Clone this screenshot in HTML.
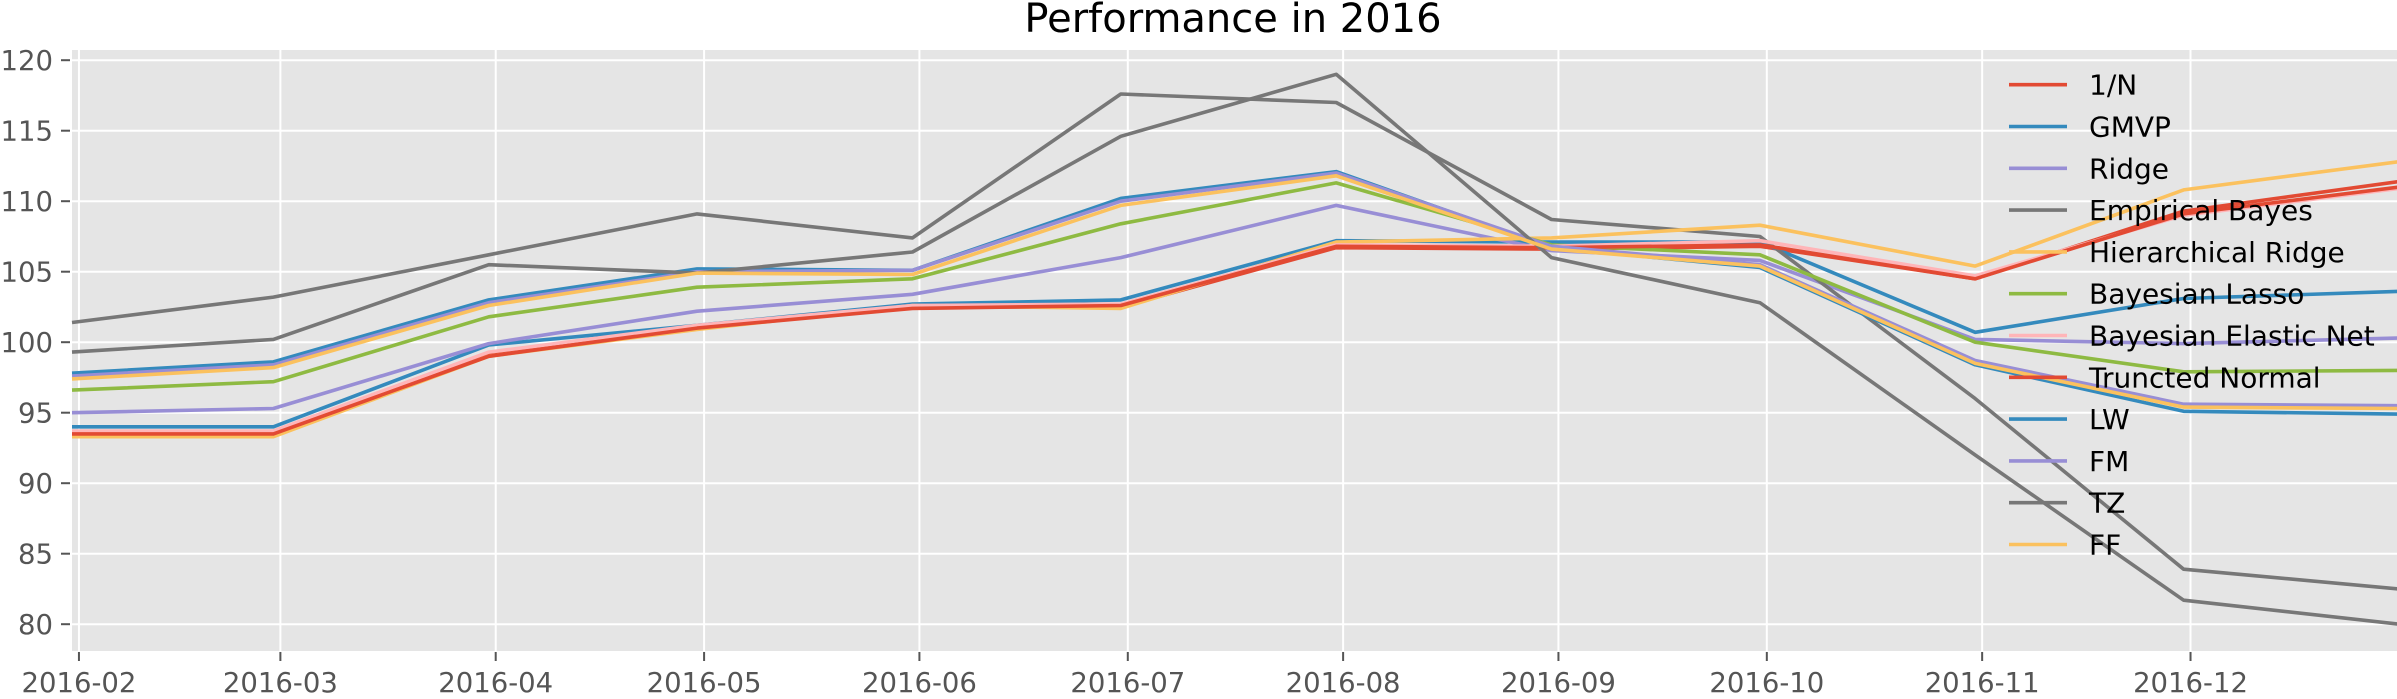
<!DOCTYPE html>
<html><head><meta charset="utf-8"><style>
html,body{margin:0;padding:0;background:#fff;}
svg{display:block;}
text{font-family:"DejaVu Sans","Liberation Sans",sans-serif;}
</style></head><body>
<svg id="chart" width="2397" height="699" viewBox="0 0 2397 699" xmlns="http://www.w3.org/2000/svg">
<text x="1233" y="32" font-size="40" text-anchor="middle" fill="#000">Performance in 2016</text>
<rect x="72" y="50" width="2330" height="601" fill="#E5E5E5"/>
<g id="grid"></g><g id="axes"></g><g id="lines"></g><g id="legend"></g>
</svg>
<script>
const monthEndDays = [30,59,90,120,151,181,212,243,273,304,334,365];
const tickDays = [31,60,91,121,152,182,213,244,274,305,335];
const tickLabels = ["2016-02","2016-03","2016-04","2016-05","2016-06","2016-07","2016-08","2016-09","2016-10","2016-11","2016-12"];
const yTicks = [80,85,90,95,100,105,110,115,120];
const seriesNames = ["1/N","GMVP","Ridge","Empirical Bayes","Hierarchical Ridge","Bayesian Lasso","Bayesian Elastic Net","Truncted Normal","LW","FM","TZ","FF"];
const seriesColors = ["#E24A33","#348ABD","#988ED5","#777777","#FBC15E","#8EBA42","#FFB5B8","#E24A33","#348ABD","#988ED5","#777777","#FBC15E"];
const s1N   = [93.6,93.6,99.1,101.0,102.5,102.5,106.7,106.6,106.8,104.5,109.3,111.4];
const sGMVP = [94.0,94.0,99.8,101.2,102.7,103.0,107.2,107.1,107.1,100.7,103.1,103.6];
const sRidge= [95.0,95.3,99.9,102.2,103.4,106.0,109.7,106.5,105.8,100.2,99.9,100.3];
const sEB   = [101.4,103.2,106.2,109.1,107.4,117.6,117.0,108.7,107.5,96.0,83.9,82.5];
const sHR   = [93.3,93.3,99.0,100.9,102.6,102.4,107.1,107.4,108.3,105.4,110.8,112.8];
const sLasso= [96.6,97.2,101.8,103.9,104.5,108.4,111.3,106.9,106.2,100.0,97.9,98.0];
const sBEN  = [93.7,93.7,99.3,101.2,102.6,102.7,106.9,106.8,107.2,104.7,109.0,110.9];
const sTN   = [93.5,93.5,99.0,101.0,102.4,102.6,106.8,106.7,106.9,104.5,109.1,111.0];
const sLW   = [97.8,98.6,103.0,105.2,105.1,110.2,112.1,106.7,105.3,98.4,95.1,94.9];
const sFM   = [97.6,98.4,102.8,105.0,105.1,110.0,112.0,106.8,105.5,98.7,95.6,95.5];
const sTZ   = [99.3,100.2,105.5,104.9,106.4,114.6,119.0,106.0,102.8,92.0,81.7,80.0];
const sFF   = [97.4,98.2,102.6,104.9,104.8,109.7,111.8,106.6,105.4,98.5,95.4,95.3];
const seriesValues = [s1N,sGMVP,sRidge,sEB,sHR,sLasso,sBEN,sTN,sLW,sFM,sTZ,sFF];

const NS="http://www.w3.org/2000/svg";
const X0=72, PX_PER_DAY=6.946, D0=30;
const xs = d => X0 + (d-D0)*PX_PER_DAY;
const ys = v => 624.2 - (v-80)*14.1;
function mk(tag, attrs, parent){const e=document.createElementNS(NS,tag);for(const k in attrs)e.setAttribute(k,attrs[k]);parent.appendChild(e);return e;}
const grid=document.getElementById('grid'), axes=document.getElementById('axes'), lines=document.getElementById('lines'), legend=document.getElementById('legend');

yTicks.forEach(v=>{
  const y=ys(v);
  const g=mk('line',{x1:72,x2:2402,y1:y,y2:y,stroke:'#fff','stroke-width':2},grid);
  
  
  const t=mk('line',{x1:61,x2:70,y1:y,y2:y,stroke:'#555','stroke-width':2},axes);
  
  
  const l=mk('text',{x:53,y:y+10,'font-size':27.5,'text-anchor':'end',fill:'#555'},axes);
  l.textContent=v;
  
  
});
tickDays.forEach((d,i)=>{
  const x=xs(d);
  const g=mk('line',{x1:x,x2:x,y1:50,y2:651,stroke:'#fff','stroke-width':2},grid);
  
  
  const t=mk('line',{x1:x,x2:x,y1:652,y2:661,stroke:'#555','stroke-width':2},axes);
  
  
  const l=mk('text',{x:x,y:692,'font-size':27.5,'text-anchor':'middle',fill:'#555'},axes);
  l.textContent=tickLabels[i];
  
  
});
seriesValues.forEach((vals,i)=>{
  const pts=vals.map((v,j)=>xs(monthEndDays[j]).toFixed(1)+','+ys(v).toFixed(1)).join(' ');
  const p=mk('polyline',{points:pts,fill:'none',stroke:seriesColors[i],'stroke-width':3.6,'stroke-linejoin':'round'},lines);
  
  
});
seriesNames.forEach((n,i)=>{
  const y=84.7+i*41.8;
  const g=mk('g',{},legend);
  
  
  mk('line',{x1:2009,x2:2067,y1:y,y2:y,stroke:seriesColors[i],'stroke-width':3.6},g);
  const t=mk('text',{x:2089,y:y+10,'font-size':28,fill:'#000'},g);
  t.textContent=n;
});
</script>
</body></html>
